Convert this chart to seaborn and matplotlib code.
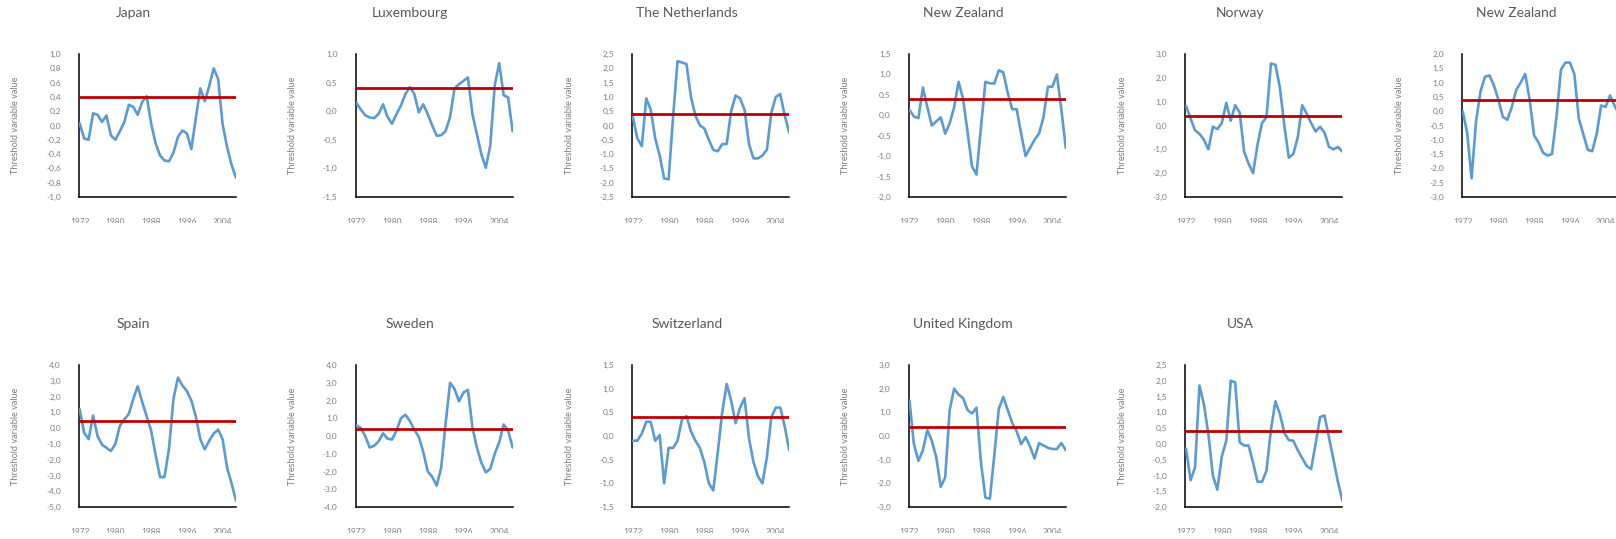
import matplotlib
matplotlib.use("Agg")
import matplotlib.pyplot as plt
import numpy as np
import pandas as pd
import seaborn as sns
from matplotlib.ticker import FixedLocator, FuncFormatter, MultipleLocator
from matplotlib.transforms import Bbox, TransformedBbox

# ---- data -------------------------------------------------------------
years = list(range(1972, 2008))
year_ticks = [1972, 1980, 1988, 1996, 2004]

japan = [0.03, -0.18, -0.2, 0.17, 0.15, 0.05, 0.14, -0.14, -0.2, -0.08,
         0.05, 0.29, 0.26, 0.15, 0.33, 0.41, 0.03, -0.25, -0.42, -0.49,
         -0.5, -0.38, -0.16, -0.07, -0.11, -0.33, 0.1, 0.52, 0.34, 0.55,
         0.8, 0.65, 0.02, -0.3, -0.55, -0.73]
luxembourg = [0.15, 0.03, -0.07, -0.11, -0.12, -0.05, 0.12, -0.1, -0.22, -0.05,
              0.1, 0.3, 0.42, 0.3, -0.02, 0.12, -0.05, -0.25, -0.43, -0.42,
              -0.35, -0.1, 0.4, 0.47, 0.53, 0.59, -0.05, -0.4, -0.75, -0.99,
              -0.6, 0.45, 0.84, 0.28, 0.24, -0.35]
netherlands = [0.3, -0.45, -0.72, 0.95, 0.55, -0.45, -1.05, -1.85, -1.88, 0.3,
               2.25, 2.2, 2.15, 1.0, 0.35, 0.0, -0.1, -0.5, -0.85, -0.9,
               -0.65, -0.65, 0.5, 1.05, 0.95, 0.55, -0.65, -1.15, -1.15, -1.05,
               -0.85, 0.45, 1.0, 1.1, 0.35, -0.25]
new_zealand = [0.13, -0.03, -0.07, 0.68, 0.2, -0.25, -0.15, -0.05, -0.45, -0.2,
               0.2, 0.82, 0.4, -0.4, -1.25, -1.45, -0.3, 0.82, 0.78, 0.78,
               1.1, 1.05, 0.55, 0.15, 0.15, -0.45, -1.0, -0.8, -0.6, -0.45,
               -0.05, 0.7, 0.7, 1.0, 0.15, -0.8]
norway = [0.82, 0.3, -0.2, -0.35, -0.6, -1.0, -0.05, -0.15, 0.1, 0.95,
          0.2, 0.85, 0.55, -1.1, -1.6, -2.0, -0.8, 0.1, 0.35, 2.6,
          2.55, 1.6, 0.0, -1.35, -1.2, -0.5, 0.85, 0.5, 0.1, -0.25,
          -0.05, -0.3, -0.9, -1.0, -0.9, -1.1]
new_zealand_2 = [0.0, -0.75, -2.35, -0.35, 0.7, 1.2, 1.25, 0.9, 0.4, -0.2,
                 -0.3, 0.15, 0.75, 1.0, 1.3, 0.4, -0.85, -1.1, -1.45, -1.55,
                 -1.5, -0.2, 1.45, 1.7, 1.7, 1.3, -0.25, -0.8, -1.35, -1.4,
                 -0.8, 0.2, 0.15, 0.55, 0.2, -0.1]
spain = [1.2, -0.3, -0.7, 0.8, -0.5, -1.05, -1.25, -1.45, -1.0, 0.15,
         0.55, 0.9, 1.85, 2.65, 1.65, 0.75, -0.15, -1.7, -3.1, -3.1,
         -1.3, 1.85, 3.2, 2.7, 2.35, 1.75, 0.75, -0.7, -1.35, -0.8,
         -0.35, -0.1, -0.7, -2.5, -3.5, -4.6]
sweden = [0.6, 0.45, 0.0, -0.65, -0.55, -0.3, 0.15, -0.15, -0.2, 0.3,
          1.0, 1.2, 0.85, 0.35, -0.05, -0.9, -2.0, -2.3, -2.8, -1.8,
          0.7, 3.0, 2.65, 1.95, 2.45, 2.6, 0.5, -0.65, -1.5, -2.05,
          -1.85, -1.0, -0.35, 0.65, 0.3, -0.65]
switzerland = [-0.1, -0.1, 0.05, 0.3, 0.3, -0.1, 0.02, -1.0, -0.25, -0.25,
               -0.1, 0.35, 0.42, 0.1, -0.1, -0.25, -0.55, -1.0, -1.15, -0.35,
               0.5, 1.1, 0.75, 0.27, 0.6, 0.8, -0.05, -0.55, -0.85, -1.0,
               -0.45, 0.4, 0.6, 0.6, 0.2, -0.3]
united_kingdom = [1.5, -0.35, -1.05, -0.6, 0.25, -0.2, -0.9, -2.15, -1.75, 1.1,
                  2.0, 1.75, 1.6, 1.1, 0.95, 1.2, -1.1, -2.6, -2.65, -0.8,
                  1.15, 1.65, 1.1, 0.55, 0.2, -0.35, -0.05, -0.45, -0.95, -0.3,
                  -0.4, -0.5, -0.55, -0.55, -0.3, -0.6]
usa = [-0.15, -1.15, -0.75, 1.85, 1.25, 0.3, -1.0, -1.45, -0.4, 0.1,
       2.0, 1.95, 0.05, -0.05, -0.05, -0.6, -1.2, -1.2, -0.85, 0.45,
       1.35, 0.95, 0.35, 0.12, 0.1, -0.2, -0.45, -0.7, -0.8, 0.0,
       0.85, 0.9, 0.2, -0.5, -1.2, -1.8]

countries = ["Japan", "Luxembourg", "The Netherlands", "New Zealand", "Norway",
             "New Zealand", "Spain", "Sweden", "Switzerland", "United Kingdom", "USA"]
series = [japan, luxembourg, netherlands, new_zealand, norway, new_zealand_2,
          spain, sweden, switzerland, united_kingdom, usa]
thresholds = [0.4, 0.4, 0.4, 0.4, 0.4, 0.4, 0.45, 0.4, 0.4, 0.4, 0.4]

# y-axis scale per panel: (min, max, step)
y_scales = [(-1.0, 1.0, 0.2), (-1.5, 1.0, 0.5), (-2.5, 2.5, 0.5), (-2.0, 1.5, 0.5),
            (-3.0, 3.0, 1.0), (-3.0, 2.0, 0.5), (-5.0, 4.0, 1.0), (-4.0, 4.0, 1.0),
            (-1.5, 1.5, 0.5), (-3.0, 3.0, 1.0), (-2.0, 2.5, 0.5)]

# ---- style ------------------------------------------------------------
sns.set_theme(style="white")
plt.rcParams["font.family"] = ["Lato", "DejaVu Sans"]

W, H = 1616, 539
fig = plt.figure(figsize=(W / 100, H / 100), dpi=100)
fig.patch.set_facecolor("white")

BLUE = "#5B9BD5"
RED = "#C00000"
TITLE_GREY = "#595959"
TICK_GREY = "#7F7F7F"

col_step = 276.6
ax_w = 157
rows = [(54, 197), (365, 507)]  # (top, bottom) in pixels

comma = FuncFormatter(lambda v, _: f"{v:.1f}".replace(".", ","))

for i, (name, vals, thr, (ymin, ymax, step)) in enumerate(
        zip(countries, series, thresholds, y_scales)):
    r, c = divmod(i, 6)
    top, bot = rows[r]
    left = 79 + col_step * c
    ax = fig.add_axes([left / W, (H - bot) / H, ax_w / W, (bot - top) / H])

    df = pd.DataFrame({"year": years, "value": vals})
    sns.lineplot(data=df, x="year", y="value", ax=ax, color=BLUE,
                 linewidth=1.9, zorder=3)
    ax.axhline(thr, color=RED, linewidth=2.0, zorder=4)

    ax.set_xlim(1971.85, 2007)
    ax.set_ylim(ymin, ymax)
    ax.xaxis.set_major_locator(FixedLocator(year_ticks))
    ax.yaxis.set_major_locator(MultipleLocator(step))
    ax.yaxis.set_major_formatter(comma)

    for s in ("top", "right"):
        ax.spines[s].set_visible(False)
    for s in ("left", "bottom"):
        ax.spines[s].set_color("black")
        ax.spines[s].set_linewidth(1.1)

    ax.tick_params(axis="x", direction="in", length=2.5, width=0.9,
                   color="black", pad=15, labelsize=6, labelcolor=TICK_GREY)
    ax.tick_params(axis="y", length=0, pad=13, labelsize=6,
                   labelcolor=TICK_GREY)
    ax.set_xlabel("")
    ax.set_ylabel("")
    ax.grid(False)

    # title centred over the whole chart box
    fig.text((left - 24 + ax_w / 2) / W, (H - (top - 41)) / H, name,
             ha="center", va="center", fontsize=10, color=TITLE_GREY)
    fig.text((left - 63) / W, (H - (top + bot) / 2) / H,
             "Threshold variable value", rotation=90, ha="center",
             va="center", fontsize=6.6, color=TICK_GREY)

    # year labels are cut off a little below the axis
    clip = TransformedBbox(Bbox([[0, (H - (bot + 26)) / H], [1, 1]]),
                           fig.transFigure)
    for tick in ax.xaxis.get_major_ticks():
        tick.label1.set_clip_on(True)
        tick.label1.set_clip_box(clip)

fig.savefig("out.png", dpi=100, facecolor="white")
